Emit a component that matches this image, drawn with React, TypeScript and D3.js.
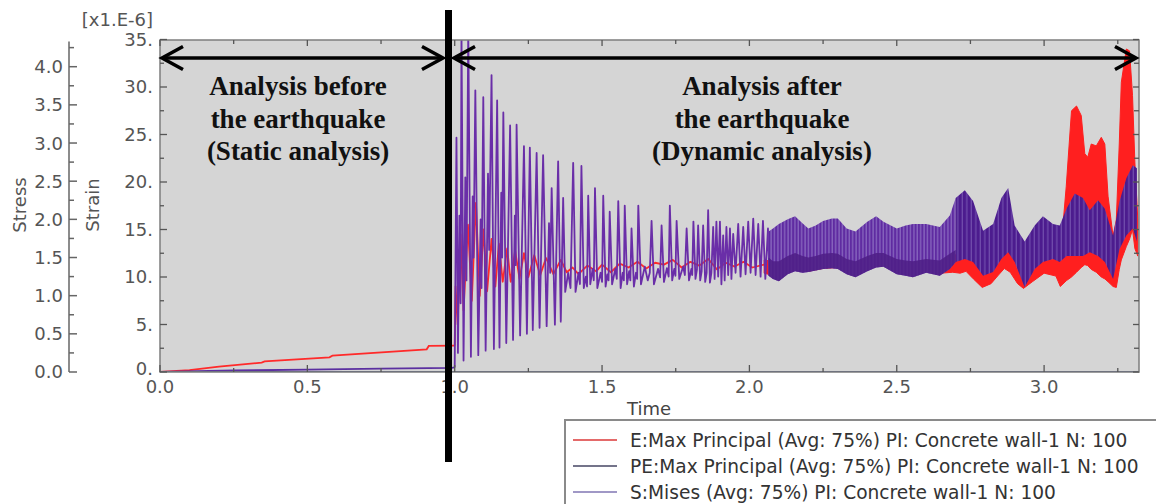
import React from "react";
import * as d3 from "d3";

// ---------- axis ticks ----------
const TIME_MAJOR = [0, 0.5, 1.0, 1.5, 2.0, 2.5, 3.0];
const TIME_LABELS = ["0.0", "0.5", "1.0", "1.5", "2.0", "2.5", "3.0"];
const TIME_MINOR = [0.25, 0.75, 1.25, 1.75, 2.25, 2.75, 3.25];
const STRAIN_MAJOR = [0, 5, 10, 15, 20, 25, 30, 35];
const STRAIN_LABELS = ["0.", "5.", "10.", "15.", "20.", "25.", "30.", "35."];
const STRAIN_MINOR = [2.5, 7.5, 12.5, 17.5, 22.5, 27.5, 32.5];
const STRESS_MAJOR = [0, 0.5, 1.0, 1.5, 2.0, 2.5, 3.0, 3.5, 4.0];
const STRESS_LABELS = ["0.0", "0.5", "1.0", "1.5", "2.0", "2.5", "3.0", "3.5", "4.0"];
const STRESS_MINOR = [0.25, 0.75, 1.25, 1.75, 2.25, 2.75, 3.25, 3.75, 4.25];

// ---------- series: E (strain, x1e-6) ----------
const E_STATIC: [number, number][] = [
  [0, 0], [0.1, 0.2], [0.2, 0.56], [0.345, 0.98], [0.355, 1.12], [0.575, 1.55],
  [0.585, 1.72], [0.905, 2.39], [0.912, 2.74], [1.0, 2.78],
];
const E_DYN: [number, number][] = [
  [1.0, 2.78], [1.003, 9.0], [1.01, 5.0], [1.02, 14.5], [1.03, 6.5], [1.045, 15.5],
  [1.058, 7.5], [1.072, 17.8], [1.085, 8.0], [1.098, 15.0], [1.11, 8.5], [1.125, 14.0],
  [1.138, 9.0], [1.15, 13.5], [1.163, 9.5], [1.178, 13.0], [1.19, 9.5], [1.205, 12.8],
  [1.22, 9.8], [1.235, 12.5], [1.25, 10.0], [1.27, 12.3], [1.29, 10.2], [1.31, 12.0],
  [1.335, 10.3], [1.36, 11.8], [1.38, 10.5], [1.4, 11.0], [1.42, 10.3], [1.45, 11.2],
  [1.48, 10.6], [1.5, 11.3], [1.53, 10.5], [1.56, 11.4], [1.59, 11.0], [1.62, 11.6],
  [1.65, 10.9], [1.68, 11.5], [1.71, 11.3], [1.74, 11.8], [1.77, 11.0], [1.8, 11.6],
  [1.83, 11.2], [1.86, 11.9], [1.89, 10.8], [1.92, 11.5], [1.95, 11.1], [1.98, 11.6],
  [2.01, 11.0], [2.05, 11.3],
];
// dense part: [time, low, high]
const E_BAND: [number, number, number][] = [
  [2.05, 10.4, 11.8], [2.1, 10.0, 11.5], [2.15, 10.7, 12.3], [2.2, 10.6, 11.8],
  [2.25, 10.9, 12.2], [2.3, 11.0, 12.4], [2.35, 10.4, 11.7], [2.4, 10.8, 12.0],
  [2.45, 11.3, 12.6], [2.5, 10.6, 12.0], [2.55, 10.4, 11.8], [2.6, 10.7, 12.0],
  [2.65, 10.4, 11.6], [2.69, 10.5, 11.9], [2.715, 10.4, 13.0], [2.735, 10.6, 13.6],
  [2.76, 9.8, 12.4], [2.79, 8.9, 10.6], [2.82, 9.3, 10.9], [2.845, 10.2, 12.6],
  [2.865, 10.9, 13.5], [2.885, 10.5, 12.8], [2.91, 9.3, 10.8], [2.93, 8.8, 10.1],
  [2.96, 9.5, 11.3], [3.0, 10.4, 12.0], [3.04, 10.1, 11.8], [3.055, 9.0, 12.2],
  [3.075, 9.6, 19.5], [3.093, 10.0, 27.5], [3.11, 10.5, 28.0], [3.126, 11.0, 27.0],
  [3.138, 11.3, 23.0], [3.148, 11.2, 22.6], [3.16, 10.8, 24.0], [3.177, 10.5, 23.8],
  [3.194, 10.0, 24.7], [3.206, 9.8, 24.0], [3.217, 9.5, 18.5], [3.234, 9.0, 14.3],
  [3.245, 8.9, 16.0], [3.255, 10.8, 24.0], [3.262, 11.8, 30.5], [3.279, 13.2, 34.0],
  [3.29, 14.0, 33.8], [3.3, 15.0, 29.1], [3.308, 13.0, 22.1], [3.318, 12.2, 16.0],
];

// ---------- series: PE (strain) ----------
const PE_SERIES: [number, number][] = [[0, 0], [1.0, 0], [2.0, 0], [3.322, 0]];

// ---------- series: S Mises (stress) ----------
const S_STATIC: [number, number][] = [
  [0, 0], [0.25, 0.02], [0.5, 0.03], [0.75, 0.045], [0.99, 0.055], [1.0, 0.06],
];
const S_DYN: [number, number][] = [
  [1.0, 0.06], [1.006, 3.07], [1.011, 0.25], [1.016, 2.05], [1.02, 0.9], [1.023, 4.5],
  [1.03, 0.15], [1.036, 2.55], [1.04, 1.2], [1.046, 4.5], [1.055, 0.2], [1.061, 2.3],
  [1.064, 1.5], [1.07, 3.69], [1.08, 0.22], [1.088, 2.0], [1.091, 1.1], [1.097, 3.6],
  [1.105, 0.28], [1.113, 2.6], [1.117, 1.6], [1.125, 3.89], [1.133, 0.3], [1.144, 3.56],
  [1.152, 0.32], [1.158, 2.35], [1.161, 1.5], [1.165, 3.4], [1.175, 0.38], [1.188, 3.23],
  [1.198, 0.42], [1.204, 2.05], [1.207, 1.4], [1.21, 3.24], [1.222, 0.48], [1.235, 2.96],
  [1.245, 0.5], [1.255, 2.94], [1.265, 0.55], [1.278, 2.87], [1.288, 0.58], [1.3, 2.84],
  [1.312, 0.6], [1.32, 1.95], [1.324, 1.3], [1.329, 2.41], [1.34, 0.62], [1.351, 2.76],
  [1.36, 0.66], [1.368, 2.28], [1.375, 1.05],
  [1.385, 1.3], [1.393, 1.1], [1.402, 2.74], [1.41, 1.05], [1.42, 1.3], [1.425, 1.15],
  [1.43, 2.7], [1.438, 1.1], [1.445, 1.25], [1.449, 1.12], [1.453, 2.31], [1.46, 1.15],
  [1.468, 1.35], [1.472, 1.2], [1.476, 2.41], [1.484, 1.1], [1.495, 1.3], [1.5, 1.18],
  [1.504, 2.31], [1.512, 1.12], [1.518, 1.28], [1.522, 1.2], [1.526, 2.1], [1.534, 1.15],
  [1.545, 1.35], [1.55, 1.22], [1.555, 2.24], [1.563, 1.1], [1.57, 1.3], [1.574, 1.2],
  [1.577, 2.18], [1.585, 1.15], [1.592, 1.32], [1.596, 1.2], [1.6, 1.88], [1.608, 1.12],
  [1.615, 1.3], [1.619, 1.22], [1.623, 2.18], [1.632, 1.15], [1.645, 1.38], [1.655, 1.2],
  [1.662, 1.3], [1.668, 1.98], [1.676, 1.15], [1.69, 1.35], [1.697, 1.24], [1.702, 1.92],
  [1.71, 1.18], [1.72, 1.36], [1.726, 1.25], [1.73, 2.18], [1.738, 1.2], [1.745, 1.35],
  [1.749, 1.26], [1.753, 1.98], [1.762, 1.22], [1.775, 1.38], [1.781, 1.27], [1.787, 1.88],
  [1.795, 1.2], [1.803, 1.35], [1.806, 1.27], [1.81, 1.97], [1.817, 1.22], [1.822, 1.34],
  [1.826, 1.92], [1.833, 1.2], [1.838, 1.32], [1.843, 1.92], [1.85, 1.18], [1.855, 1.3],
  [1.86, 2.12], [1.866, 1.17], [1.871, 1.3], [1.877, 1.9], [1.882, 1.22], [1.888, 1.97],
  [1.894, 1.25], [1.9, 1.97], [1.905, 1.15], [1.911, 1.79], [1.916, 1.2], [1.922, 1.9],
  [1.928, 1.27], [1.934, 1.88], [1.939, 1.22], [1.945, 1.81], [1.953, 1.3], [1.962, 1.94],
  [1.97, 1.25], [1.979, 1.9], [1.987, 1.28], [1.996, 1.97], [2.004, 1.3], [2.013, 2.01],
  [2.021, 1.27], [2.03, 1.94], [2.038, 1.25], [2.046, 1.98], [2.054, 1.22], [2.063, 1.88],
  [2.068, 1.26],
];
// dense part A: [time, low, mid, high]
const S_BAND_A: [number, number, number, number][] = [
  [2.065, 1.26, 1.5, 1.84], [2.08, 1.22, 1.45, 1.88], [2.1, 1.19, 1.45, 1.94],
  [2.13, 1.28, 1.52, 2.0], [2.155, 1.32, 1.56, 2.04], [2.18, 1.3, 1.52, 1.95],
  [2.2, 1.31, 1.5, 1.88], [2.225, 1.33, 1.52, 1.92], [2.25, 1.35, 1.55, 1.98],
  [2.28, 1.36, 1.56, 2.01], [2.3, 1.35, 1.55, 2.01], [2.33, 1.28, 1.48, 1.88],
  [2.36, 1.24, 1.45, 1.84], [2.4, 1.32, 1.52, 1.97], [2.43, 1.37, 1.56, 2.04],
  [2.455, 1.38, 1.56, 1.97], [2.5, 1.28, 1.48, 1.88], [2.53, 1.26, 1.46, 1.92],
  [2.555, 1.24, 1.45, 1.94], [2.6, 1.3, 1.48, 1.94], [2.646, 1.26, 1.46, 1.9],
  [2.68, 1.35, 1.55, 2.05], [2.7, 1.44, 1.6, 2.28],
];
// dense part B: [time, low, high]
const S_BAND_B: [number, number, number][] = [
  [2.7, 1.44, 2.28], [2.731, 1.48, 2.38], [2.759, 1.44, 2.24], [2.793, 1.26, 1.85],
  [2.827, 1.31, 1.94], [2.855, 1.48, 2.28], [2.878, 1.57, 2.41], [2.9, 1.44, 1.92],
  [2.934, 1.11, 1.71], [2.968, 1.35, 1.92], [2.996, 1.44, 2.04], [3.03, 1.48, 1.94],
  [3.053, 1.44, 1.92], [3.076, 1.52, 2.14], [3.104, 1.52, 2.34], [3.132, 1.52, 2.28],
  [3.155, 1.57, 2.12], [3.183, 1.52, 2.25], [3.206, 1.44, 2.14], [3.234, 1.22, 1.79],
  [3.256, 1.61, 2.24], [3.279, 1.79, 2.54], [3.301, 1.88, 2.71], [3.315, 1.71, 2.67],
];

const LEGEND = [
  { label: "E:Max Principal (Avg: 75%) PI: Concrete wall-1 N: 100", color: "#e46a6a" },
  { label: "PE:Max Principal (Avg: 75%) PI: Concrete wall-1 N: 100", color: "#74748a" },
  { label: "S:Mises (Avg: 75%) PI: Concrete wall-1 N: 100", color: "#a098c6" },
];
const LEFT_NOTE = ["Analysis before", "the earthquake", "(Static analysis)"];
const RIGHT_NOTE = ["Analysis after", "the earthquake", "(Dynamic analysis)"];

const L = 160, R = 1139, T = 40, B = 372;
const AX_FONT = "'DejaVu Sans', Verdana, sans-serif";
const SERIF = "'Liberation Serif', 'Times New Roman', serif";

export default function App() {
  const x = d3.scaleLinear().domain([0, 3.322]).range([L, R]);
  const yE = d3.scaleLinear().domain([0, 35]).range([B, 39.5]);
  const yS = d3.scaleLinear().domain([0, 4]).range([B, 66.7]);

  const lineE = d3.line<[number, number]>().x((d) => x(d[0])).y((d) => yE(d[1]));
  const lineS = d3.line<[number, number]>().x((d) => x(d[0])).y((d) => yS(d[1]));
  const areaE = d3.area<[number, number, number]>().x((d) => x(d[0])).y0((d) => yE(d[1])).y1((d) => yE(d[2]));
  const areaAhi = d3.area<[number, number, number, number]>().x((d) => x(d[0])).y0((d) => yS(d[1])).y1((d) => yS(d[3]));
  const areaAlo = d3.area<[number, number, number, number]>().x((d) => x(d[0])).y0((d) => yS(d[1])).y1((d) => yS(d[2]));
  const areaB = d3.area<[number, number, number]>().x((d) => x(d[0])).y0((d) => yS(d[1])).y1((d) => yS(d[2]));

  const arrowY = 58;
  const head = (tx: number, dir: number) =>
    `M${tx + dir * 21},${arrowY - 11.5} L${tx},${arrowY} L${tx + dir * 21},${arrowY + 11.5}`;

  return (
    <svg width={1156} height={504} style={{ position: "absolute", left: 0, top: 0, background: "#fff" }}>
      <defs>
        <clipPath id="plotclip">
          <rect x={L} y={T} width={R - L} height={B - T} />
        </clipPath>
        <pattern id="stripesA" width={3.4} height={10} patternUnits="userSpaceOnUse">
          <rect width={3.4} height={10} fill="#8663bd" />
          <rect width={2} height={10} fill="#5f2ba1" />
        </pattern>
        <pattern id="stripesB" width={4.5} height={10} patternUnits="userSpaceOnUse">
          <rect width={4.5} height={10} fill="#4c1c8e" />
          <rect x={3.3} width={1} height={10} fill="#7a58b4" />
        </pattern>
      </defs>

      {/* plot background */}
      <rect x={L} y={T} width={R - L} height={B - T} fill="#d5d5d5" />

      <g clipPath="url(#plotclip)">
        {/* E */}
        <path d={lineE(E_STATIC) || ""} fill="none" stroke="#ff2a2a" strokeWidth={1.8} />
        <path d={areaE(E_BAND) || ""} fill="#ff1f1f" stroke="#ff1f1f" strokeWidth={1} />
        <path d={lineE(E_DYN) || ""} fill="none" stroke="#ff2a2a" strokeWidth={1.8} strokeLinejoin="round" />
        {/* S */}
        <path d={lineS(S_STATIC) || ""} fill="none" stroke="#5b2fa0" strokeWidth={1.8} />
        <path d={lineS(S_DYN) || ""} fill="none" stroke="#6a2ea8" strokeWidth={1.8} strokeLinejoin="round" />
        <path d={areaAhi(S_BAND_A) || ""} fill="url(#stripesA)" />
        <path d={areaAlo(S_BAND_A) || ""} fill="#4f1f86" opacity={0.88} />
        <path d={areaB(S_BAND_B) || ""} fill="url(#stripesB)" />
        {/* PE */}
        <path d={lineE(PE_SERIES) || ""} fill="none" stroke="#4a5585" strokeWidth={2} />
      </g>

      {/* plot frame */}
      <rect x={L} y={T} width={R - L} height={B - T} fill="none" stroke="#7d7d7d" strokeWidth={1.5} />

      {/* time ticks */}
      {TIME_MAJOR.map((t, i) => (
        <g key={"tm" + i}>
          <line x1={x(t)} x2={x(t)} y1={B} y2={B - 7} stroke="#555" strokeWidth={1.3} />
          <line x1={x(t)} x2={x(t)} y1={T} y2={T + 6} stroke="#555" strokeWidth={1.3} />
          <text x={x(t)} y={393} textAnchor="middle" fontFamily={AX_FONT} fontSize={18} fill="#555">
            {TIME_LABELS[i]}
          </text>
        </g>
      ))}
      {TIME_MINOR.map((t, i) => (
        <g key={"tn" + i}>
          <line x1={x(t)} x2={x(t)} y1={B} y2={B - 4} stroke="#555" strokeWidth={1.3} />
          <line x1={x(t)} x2={x(t)} y1={T} y2={T + 4} stroke="#555" strokeWidth={1.3} />
        </g>
      ))}
      <text x={649} y={415} textAnchor="middle" fontFamily={AX_FONT} fontSize={18} fill="#444">Time</text>

      {/* strain ticks */}
      {STRAIN_MAJOR.map((v, i) => (
        <g key={"em" + i}>
          <line x1={L} x2={L + 7} y1={yE(v)} y2={yE(v)} stroke="#555" strokeWidth={1.3} />
          <line x1={R} x2={R - 6} y1={yE(v)} y2={yE(v)} stroke="#555" strokeWidth={1.3} />
          <text x={153} y={yE(v) - (v === 0 ? 3 : 0)} dy="0.36em" textAnchor="end" fontFamily={AX_FONT} fontSize={18} fill="#555">
            {STRAIN_LABELS[i]}
          </text>
        </g>
      ))}
      {STRAIN_MINOR.map((v, i) => (
        <g key={"en" + i}>
          <line x1={L} x2={L + 4} y1={yE(v)} y2={yE(v)} stroke="#555" strokeWidth={1.3} />
          <line x1={R} x2={R - 5} y1={yE(v)} y2={yE(v)} stroke="#555" strokeWidth={1.3} />
        </g>
      ))}
      <text x={153} y={26} textAnchor="end" fontFamily={AX_FONT} fontSize={18} fill="#555">[x1.E-6]</text>
      <text transform="translate(99,205) rotate(-90)" textAnchor="middle" fontFamily={AX_FONT} fontSize={18} fill="#555">Strain</text>

      {/* stress axis */}
      <line x1={69} x2={69} y1={yS(4.33)} y2={B} stroke="#666" strokeWidth={1.5} />
      {STRESS_MAJOR.map((v, i) => (
        <g key={"sm" + i}>
          <line x1={69} x2={77} y1={yS(v)} y2={yS(v)} stroke="#666" strokeWidth={1.5} />
          <text x={63} y={yS(v)} dy="0.36em" textAnchor="end" fontFamily={AX_FONT} fontSize={18} fill="#555">
            {STRESS_LABELS[i]}
          </text>
        </g>
      ))}
      {STRESS_MINOR.map((v, i) => (
        <line key={"sn" + i} x1={69} x2={74} y1={yS(v)} y2={yS(v)} stroke="#666" strokeWidth={1.5} />
      ))}
      <text transform="translate(26,205) rotate(-90)" textAnchor="middle" fontFamily={AX_FONT} fontSize={18} fill="#555">Stress</text>

      {/* legend */}
      <rect x={565} y={420} width={600} height={100} fill="#fff" stroke="#8a8a8a" strokeWidth={2} />
      {LEGEND.map((d, i) => (
        <g key={"lg" + i}>
          <line x1={573} x2={617} y1={440 + i * 26} y2={440 + i * 26} stroke={d.color} strokeWidth={2} />
          <text x={630} y={440 + i * 26} dy="0.36em" fontFamily={AX_FONT} fontSize={18.6} fill="#333">
            {d.label}
          </text>
        </g>
      ))}

      {/* annotations */}
      <rect x={445} y={10} width={7} height={452} fill="#000" />
      <line x1={162} x2={443} y1={arrowY} y2={arrowY} stroke="#000" strokeWidth={3.5} />
      <path d={head(162, 1)} fill="none" stroke="#000" strokeWidth={3.5} />
      <path d={head(443, -1)} fill="none" stroke="#000" strokeWidth={3.5} />
      <line x1={454} x2={1136} y1={arrowY} y2={arrowY} stroke="#000" strokeWidth={3.5} />
      <path d={head(454, 1)} fill="none" stroke="#000" strokeWidth={3.5} />
      <path d={head(1136, -1)} fill="none" stroke="#000" strokeWidth={3.5} />
      {LEFT_NOTE.map((s, i) => (
        <text key={"ln" + i} x={298} y={95 + i * 32.5} textAnchor="middle" fontFamily={SERIF} fontWeight="bold" fontSize={27} fill="#111">
          {s}
        </text>
      ))}
      {RIGHT_NOTE.map((s, i) => (
        <text key={"rn" + i} x={762} y={95 + i * 32.5} textAnchor="middle" fontFamily={SERIF} fontWeight="bold" fontSize={27} fill="#111">
          {s}
        </text>
      ))}
    </svg>
  );
}
